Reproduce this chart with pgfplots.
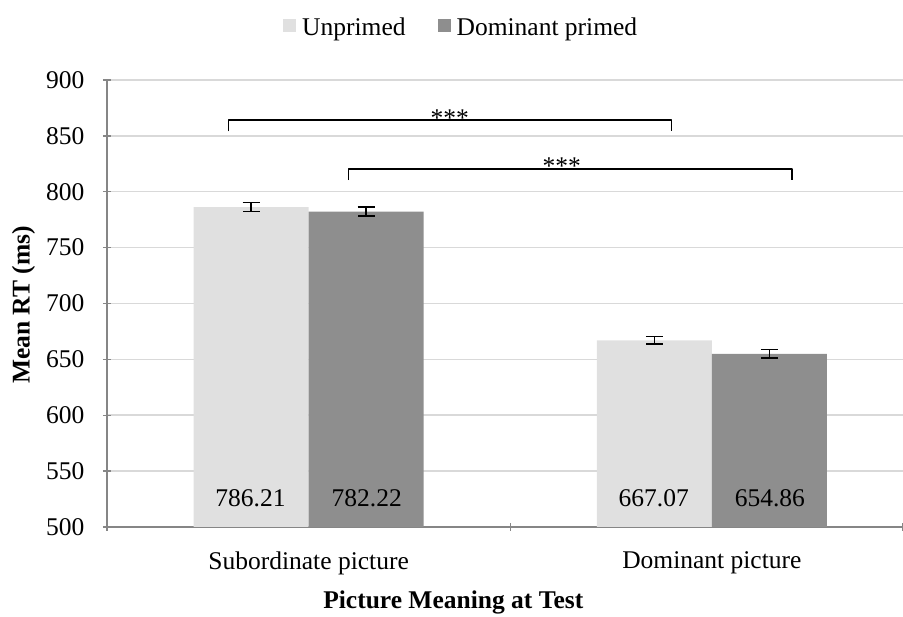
\documentclass[border=0pt]{standalone}
\usepackage{pgfplots}
\pgfplotsset{compat=1.18}
\usepackage{fontspec}
\setmainfont{Liberation Serif}
\definecolor{lightbar}{RGB}{224,224,224}
\definecolor{darkbar}{RGB}{142,142,142}
\definecolor{gridc}{RGB}{217,217,217}
\definecolor{axisc}{RGB}{134,134,134}
\newcommand{\bigfont}{\fontsize{25.5}{30}\selectfont}
\pgfplotsset{
  mylegend/.style={legend image code/.code={\fill[##1] (0pt,-4pt) rectangle (13pt,9pt);}},
  myerr/.style={error bars/.cd, y dir=both, y explicit,
    error bar style={black, line width=1.5pt},
    error mark options={rotate=90, mark size=8.5pt, line width=1.5pt, black}},
}
\begin{document}
\bigfont
\begin{tikzpicture}
\path[use as bounding box] (-107pt,-90pt) rectangle (796pt,527pt);
\begin{axis}[
  at={(0,0)}, anchor=south west,
  scale only axis, width=796pt, height=447pt,
  xmin=-0.5, xmax=1.474, ymin=500, ymax=900,
  ytick={500,550,...,900},
  /pgf/number format/assume math mode=true,
  yticklabel style={font=\bigfont, xshift=-10pt},
  xtick={-0.5,0.5,1.474}, xticklabels={},
  extra x ticks={0,1},
  extra x tick labels={Subordinate picture, Dominant picture},
  extra x tick style={major tick length=0pt, tick label style={font=\bigfont, yshift=-16pt}},
  tick align=outside, major tick length=8pt,
  tick style={draw=axisc, line width=1.3pt},
  axis x line=bottom, axis y line=left,
  axis line style={draw=axisc, line width=1.3pt, -},
  ymajorgrids, grid style={draw=gridc, line width=1.5pt},
  ylabel={\textbf{Mean RT (ms)}},
  ylabel style={at={(axis description cs:-0.105,0.497)}, anchor=center, font=\bigfont},
  xlabel={\textbf{Picture Meaning at Test}},
  xlabel style={at={(axis description cs:0.435,-0.168)}, anchor=center, font=\bigfont},
  legend style={at={(axis description cs:0.445,1.116)}, anchor=center, draw=none, fill=none,
    legend columns=2, font=\bigfont,
    /tikz/every even column/.append style={column sep=30pt},
    /tikz/every odd column/.append style={column sep=4pt}},
  clip=false,
]
\addplot[ybar, bar width=0.285, bar shift=0, fill=lightbar, draw=none, mylegend, myerr]
  coordinates {(-0.1425,786.21) +- (0,4) (0.8575,667.07) +- (0,3.5)};
\addlegendentry{Unprimed}
\addplot[ybar, bar width=0.285, bar shift=0, fill=darkbar, draw=none, mylegend, myerr]
  coordinates {(0.1425,782.22) +- (0,4) (1.1425,654.86) +- (0,3.8)};
\addlegendentry{Dominant primed}
\addplot[forget plot, only marks, mark=none, nodes near coords, point meta=explicit symbolic,
  nodes near coords style={anchor=center, font=\bigfont}]
  coordinates {(-0.144,526)[786.21] (0.144,526)[782.22] (0.856,526)[667.07] (1.144,526)[654.86]};
\addplot[forget plot, black, line width=1.6pt, line join=round]
  coordinates {(-0.199,854) (-0.199,864) (0.90,864) (0.90,854)};
\addplot[forget plot, black, line width=1.6pt, line join=round]
  coordinates {(0.099,810.5) (0.099,820.5) (1.199,820.5) (1.199,810.5)};
\node[anchor=base, font=\bigfont] at (axis cs:0.35,858.8) {***};
\node[anchor=base, font=\bigfont] at (axis cs:0.628,815.8) {***};
\end{axis}
\end{tikzpicture}
\end{document}
